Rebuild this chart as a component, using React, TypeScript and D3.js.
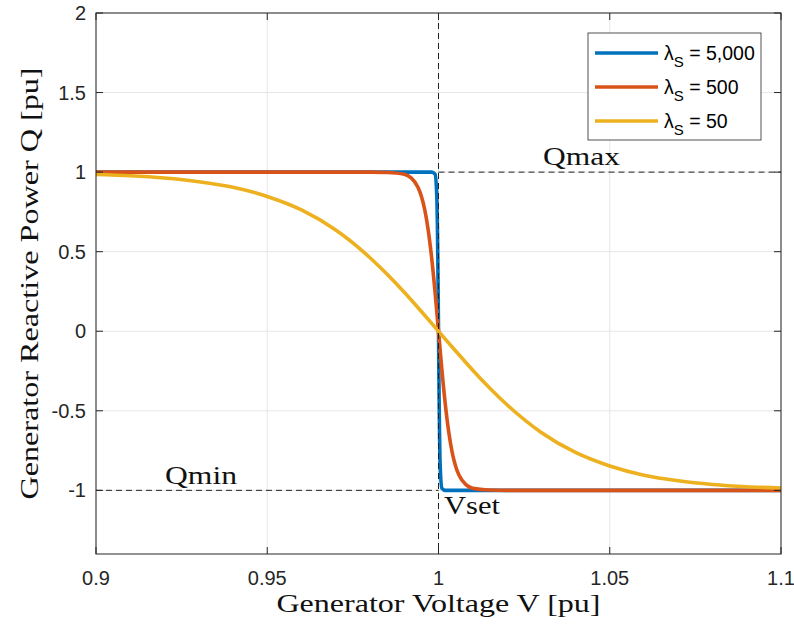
import React from "react";
import * as d3 from "d3";

// Reactive power response Q(V) of a generator for three smoothing factors λS
const vBlue = [0.9, 0.99, 0.998, 0.999, 0.9995, 0.9997, 0.9998, 0.9999, 1.0, 1.0001, 1.0002, 1.0003, 1.0005, 1.001, 1.002, 1.01, 1.1];
const qBlue = [1, 1, 0.9999, 0.987, 0.848, 0.635, 0.462, 0.245, 0, -0.245, -0.462, -0.635, -0.848, -0.987, -0.9999, -1, -1];

const vRed = [0.9, 0.97, 0.98, 0.985, 0.99, 0.992, 0.994, 0.995, 0.996, 0.997, 0.998, 0.999, 1.0, 1.001, 1.002, 1.003, 1.004, 1.005, 1.006, 1.008, 1.01, 1.015, 1.02, 1.03, 1.1];
const qRed = [1, 1, 0.9999, 0.998, 0.987, 0.964, 0.905, 0.848, 0.762, 0.635, 0.462, 0.245, 0, -0.245, -0.462, -0.635, -0.762, -0.848, -0.905, -0.964, -0.987, -0.998, -0.9999, -1, -1];

const vYellow = [0.9, 0.91, 0.92, 0.93, 0.94, 0.95, 0.96, 0.97, 0.98, 0.985, 0.99, 0.995, 1.0, 1.005, 1.01, 1.015, 1.02, 1.03, 1.04, 1.05, 1.06, 1.07, 1.08, 1.09, 1.1];
const qYellow = [0.985, 0.977, 0.963, 0.94, 0.905, 0.847, 0.762, 0.636, 0.462, 0.358, 0.245, 0.124, 0, -0.124, -0.245, -0.358, -0.462, -0.636, -0.762, -0.847, -0.905, -0.94, -0.963, -0.977, -0.985];

const seriesNames = ["5,000", "500", "50"];
const seriesColors = ["#0072BD", "#D95319", "#EDB120"];

const xTicks = [0.9, 0.95, 1, 1.05, 1.1];
const yTicks = [-1, -0.5, 0, 0.5, 1, 1.5, 2];

const W = 794;
const H = 626;
const M = { left: 96, right: 781, top: 13, bottom: 554 };

export default function App() {
  const x = d3.scaleLinear().domain([0.9, 1.1]).range([M.left, M.right]);
  const y = d3.scaleLinear().domain([-1.4, 2]).range([M.bottom, M.top]);

  const line = d3
    .line<[number, number]>()
    .x((d) => x(d[0]))
    .y((d) => y(d[1]))
    .curve(d3.curveMonotoneX);

  const series = [
    d3.zip(vBlue, qBlue) as [number, number][],
    d3.zip(vRed, qRed) as [number, number][],
    d3.zip(vYellow, qYellow) as [number, number][],
  ];

  const axisColor = "#262626";
  const sans = "'Liberation Sans', Arial, sans-serif";
  const serif = "'Liberation Serif', 'Times New Roman', serif";

  const legX = 588;
  const legY = 33;
  const legW = 173;
  const legH = 107;

  return (
    <svg
      width={W}
      height={H}
      style={{ position: "absolute", left: 0, top: 0, background: "#fff" }}
    >
      <rect x={0} y={0} width={W} height={H} fill="#fff" />
      {/* grid */}
      <g stroke="#e6e6e6" strokeWidth={1}>
        {xTicks.map((t) => (
          <line key={"gx" + t} x1={x(t)} x2={x(t)} y1={M.top} y2={M.bottom} />
        ))}
        {yTicks.map((t) => (
          <line key={"gy" + t} x1={M.left} x2={M.right} y1={y(t)} y2={y(t)} />
        ))}
      </g>

      {/* curves */}
      <g fill="none" strokeWidth={3.6} strokeLinejoin="round">
        {series.map((s, i) => (
          <path key={i} d={line(s) || ""} stroke={seriesColors[i]} />
        ))}
      </g>

      {/* limit and setpoint reference lines */}
      <g stroke="#222" strokeWidth={1} strokeDasharray="6,4" fill="none">
        <line x1={x(1)} x2={x(1.1)} y1={y(1)} y2={y(1)} />
        <line x1={x(0.9)} x2={x(1)} y1={y(-1)} y2={y(-1)} />
        <line x1={x(1)} x2={x(1)} y1={M.top} y2={M.bottom} />
      </g>

      {/* frame and ticks */}
      <rect
        x={M.left}
        y={M.top}
        width={M.right - M.left}
        height={M.bottom - M.top}
        fill="none"
        stroke={axisColor}
        strokeWidth={1}
      />
      <g stroke={axisColor} strokeWidth={1}>
        {xTicks.map((t) => (
          <g key={"tx" + t}>
            <line x1={x(t)} x2={x(t)} y1={M.bottom} y2={M.bottom - 7} />
            <line x1={x(t)} x2={x(t)} y1={M.top} y2={M.top + 7} />
          </g>
        ))}
        {yTicks.map((t) => (
          <g key={"ty" + t}>
            <line x1={M.left} x2={M.left + 7} y1={y(t)} y2={y(t)} />
            <line x1={M.right} x2={M.right - 7} y1={y(t)} y2={y(t)} />
          </g>
        ))}
      </g>
      <g fill={axisColor} fontFamily={sans} fontSize={20}>
        {xTicks.map((t) => (
          <text key={"lx" + t} x={x(t)} y={M.bottom + 31} textAnchor="middle">
            {String(t)}
          </text>
        ))}
        {yTicks.map((t) => (
          <text key={"ly" + t} x={M.left - 10} y={y(t) + 7} textAnchor="end">
            {String(t)}
          </text>
        ))}
      </g>

      {/* axis titles */}
      <text
        x={(M.left + M.right) / 2}
        y={612}
        textAnchor="middle"
        fontFamily={serif}
        fontSize={25}
        fill="#111"
        textLength={324}
        lengthAdjust="spacingAndGlyphs"
      >
        Generator Voltage V [pu]
      </text>
      <text
        transform={`translate(38,${(M.top + M.bottom) / 2}) rotate(-90)`}
        textAnchor="middle"
        fontFamily={serif}
        fontSize={25}
        fill="#111"
        textLength={432}
        lengthAdjust="spacingAndGlyphs"
      >
        Generator Reactive Power Q [pu]
      </text>

      {/* annotations */}
      <g fontFamily={serif} fontSize={25} fill="#111">
        <text x={543} y={165} textLength={77} lengthAdjust="spacingAndGlyphs">Qmax</text>
        <text x={165} y={484} textLength={72} lengthAdjust="spacingAndGlyphs">Qmin</text>
        <text x={444} y={514} textLength={56} lengthAdjust="spacingAndGlyphs">Vset</text>
      </g>

      {/* legend */}
      <rect x={legX} y={legY} width={legW} height={legH} fill="#fff" stroke={axisColor} strokeWidth={0.8} />
      {seriesNames.map((n, i) => {
        const cy = legY + 20 + i * 34;
        return (
          <g key={n}>
            <line x1={legX + 7} x2={legX + 70} y1={cy} y2={cy} stroke={seriesColors[i]} strokeWidth={3.6} />
            <text x={legX + 76} y={cy + 7} fontFamily={sans} fontSize={19.5} fill="#000">
              λ
              <tspan dy={7} fontSize={15}>S</tspan>
              <tspan dy={-7}> = {n}</tspan>
            </text>
          </g>
        );
      })}
    </svg>
  );
}
